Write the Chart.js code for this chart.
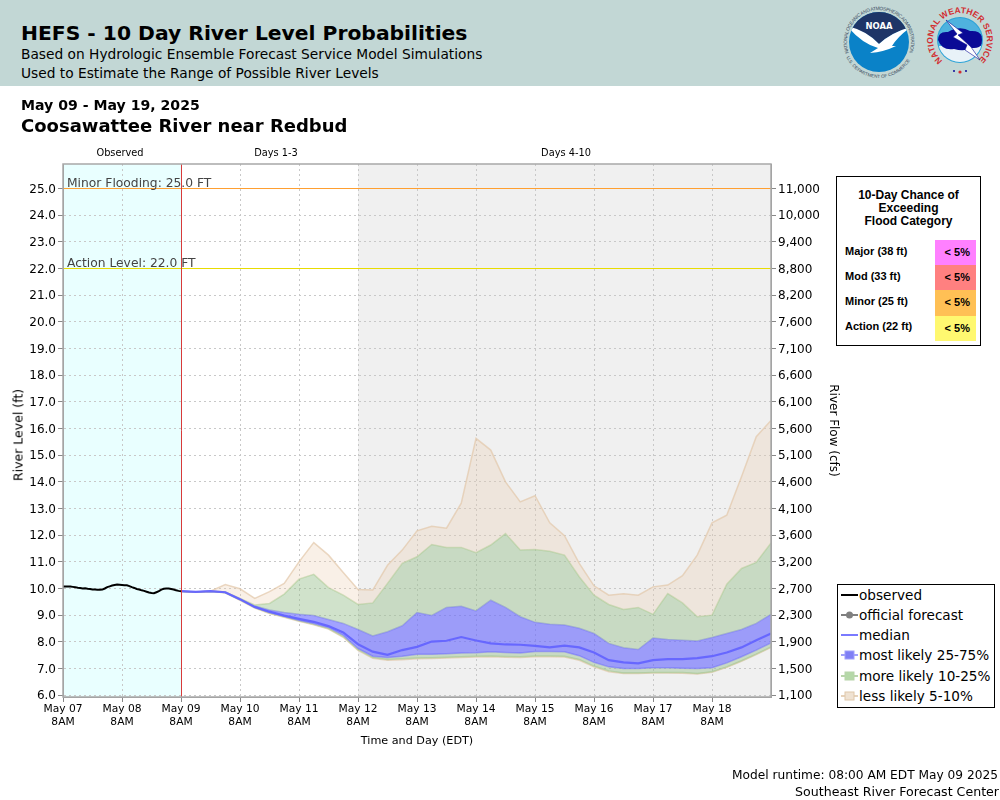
<!DOCTYPE html>
<html>
<head>
<meta charset="utf-8">
<title>HEFS - 10 Day River Level Probabilities</title>
<script src="https://cdn.jsdelivr.net/npm/chart.js@4/dist/chart.umd.min.js"></script>
<style>
  html, body { margin: 0; padding: 0; background: #fff; }
  body { width: 1000px; height: 800px; position: relative; overflow: hidden; font-family: "DejaVu Sans", sans-serif; color: #000; }
  canvas { position: absolute; left: 0; top: 0; }
  .abs { position: absolute; white-space: nowrap; }
  .banner { position: absolute; left: 0; top: 0; width: 1000px; height: 86px; background: #c2d7d5; }
  .zone { font-size: 9.8px; transform: translateX(-50%); top: 147px; }
  .legend { position: absolute; left: 837px; top: 584px; width: 156px; height: 122px; border: 1px solid #000; background: #fff; font-size: 13.6px; }
  .legend div { position: absolute; left: 3px; height: 20px; line-height: 20px; white-space: nowrap; }
  .legend svg { vertical-align: middle; margin-right: 1px; position: relative; top: -1px; }
  .flood { position: absolute; left: 836px; top: 176px; width: 143px; height: 168px; border: 1px solid #000; background: #fff; font-family: "Liberation Sans", sans-serif; font-weight: bold; color: #000; }
  .flood .head { position: absolute; left: 0; right: 0; top: 12px; text-align: center; font-size: 12px; line-height: 13px; }
  .flood .lab { position: absolute; left: 8px; font-size: 11px; line-height: 25px; white-space: nowrap; }
  .flood .cell { position: absolute; left: 98px; width: 41px; height: 25.4px; font-size: 11px; line-height: 25px; text-align: right; box-sizing: border-box; padding-right: 6px; }
</style>
</head>
<body>
<canvas id="hefsChart" width="1000" height="800"></canvas>

<div class="banner"></div>
<div class="abs" style="left:21px;top:21px;font-size:20.3px;font-weight:bold;">HEFS - 10 Day River Level Probabilities</div>
<div class="abs" style="left:21px;top:46px;font-size:13.75px;">Based on Hydrologic Ensemble Forecast Service Model Simulations</div>
<div class="abs" style="left:21px;top:65px;font-size:13.75px;">Used to Estimate the Range of Possible River Levels</div>

<!-- logos -->
<svg class="abs" style="left:836px;top:0;" width="164" height="84" viewBox="0 0 164 84">
  <defs>
    <path id="noaaTop" d="M 12.9 52.9 A 32 32 0 1 1 73.1 52.9"/>
    <path id="noaaBot" d="M 10.4 57.2 A 36 36 0 0 0 75.6 57.2"/>
    <path id="nwsTop" d="M 106.6 60.7 A 27 27 0 1 1 141.4 60.7"/>
    <clipPath id="noaaDisc"><circle cx="43" cy="42" r="30"/></clipPath>
    <clipPath id="nwsDisc"><circle cx="124" cy="40" r="22"/></clipPath>
  </defs>
  <text font-size="4.8" fill="#3a4a60" font-family="Liberation Sans"><textPath href="#noaaTop" textLength="122">NATIONAL OCEANIC AND ATMOSPHERIC ADMINISTRATION</textPath></text>
  <text font-size="4.6" fill="#3a4a60" font-family="Liberation Sans"><textPath href="#noaaBot" textLength="78">U.S. DEPARTMENT OF COMMERCE</textPath></text>
  <circle cx="43" cy="42" r="30" fill="#0a82c8"/>
  <g clip-path="url(#noaaDisc)">
    <path d="M 10 6 L 76 6 L 76 27 Q 56 32 43 44 Q 30 30 10 27 Z" fill="#1e3567"/>
    <path d="M 11 26 Q 30 30 43 44 Q 56 32 75 27 Q 62 36 56 46 L 60 46 Q 48 52 34 53 L 42 48 Q 26 44 11 26 Z" fill="#fff"/>
  </g>
  <text x="43" y="28.5" text-anchor="middle" font-size="9" font-weight="bold" fill="#fff" font-family="DejaVu Sans" textLength="27" lengthAdjust="spacingAndGlyphs">NOAA</text>

  <text font-size="8.5" font-weight="bold" fill="#d22c30" font-family="Liberation Sans"><textPath href="#nwsTop" textLength="130">NATIONAL WEATHER SERVICE</textPath></text>
  <circle cx="124" cy="40" r="23" fill="#2ba3d8"/>
  <g clip-path="url(#nwsDisc)">
    <rect x="100" y="16" width="48" height="48" fill="#4fb2de"/>
    <rect x="100" y="46" width="48" height="18" fill="#e8f2f8"/>
    <path d="M 102 40 Q 102 31 112 32 Q 124 25 134 31 Q 146 30 147 40 Q 146 49 136 48 Q 128 52 118 49 Q 106 51 102 40 Z" fill="#0a0a96"/>
  </g>
  <path d="M 110 20 L 127 33 L 122 35 L 135 47 L 144 60 L 129 50 L 131 45 L 117 37 L 121 34 Z" fill="#fff" stroke="#0a0a96" stroke-width="0.6"/>
  <circle cx="118" cy="71" r="1" fill="#0a0a96"/>
  <circle cx="130" cy="71" r="1" fill="#0a0a96"/>
  <circle cx="124" cy="72" r="1.6" fill="#d22c30"/>
</svg>

<div class="abs" style="left:21px;top:97px;font-size:14.1px;font-weight:bold;">May 09 - May 19, 2025</div>
<div class="abs" style="left:21px;top:115px;font-size:18px;font-weight:bold;">Coosawattee River near Redbud</div>

<div class="abs zone" style="left:120px;">Observed</div>
<div class="abs zone" style="left:276px;">Days 1-3</div>
<div class="abs zone" style="left:566px;">Days 4-10</div>

<div class="abs" style="left:18px;top:434.5px;font-size:12.5px;transform:translate(-50%,-50%) rotate(-90deg);">River Level (ft)</div>

<div class="flood">
  <div class="head">10-Day Chance of<br>Exceeding<br>Flood Category</div>
  <div class="lab" style="top:62px;">Major (38 ft)</div>
  <div class="cell" style="top:62.5px;background:#ff80ff;">&lt; 5%</div>
  <div class="lab" style="top:87px;">Mod (33 ft)</div>
  <div class="cell" style="top:87.9px;background:#ff8080;">&lt; 5%</div>
  <div class="lab" style="top:112px;">Minor (25 ft)</div>
  <div class="cell" style="top:113.2px;background:#ffc055;">&lt; 5%</div>
  <div class="lab" style="top:137px;">Action (22 ft)</div>
  <div class="cell" style="top:138.5px;background:#fff870;">&lt; 5%</div>
</div>

<div class="legend">
  <div style="top:0px;"><svg width="17" height="10"><line x1="0" y1="5" x2="17" y2="5" stroke="#000" stroke-width="2"/></svg>observed</div>
  <div style="top:20px;"><svg width="17" height="10"><line x1="0" y1="5" x2="17" y2="5" stroke="#808080" stroke-width="2"/><circle cx="8.5" cy="5" r="3.5" fill="#808080"/></svg>official forecast</div>
  <div style="top:40px;"><svg width="17" height="10"><line x1="0" y1="5" x2="17" y2="5" stroke="#7a7aff" stroke-width="2"/></svg>median</div>
  <div style="top:60px;"><svg width="17" height="10"><line x1="0" y1="5" x2="17" y2="5" stroke="#a0a0fa" stroke-width="2"/><rect x="4" y="1" width="9" height="8" fill="#7f7ff5" stroke="#a0a0fa"/></svg>most likely 25-75%</div>
  <div style="top:81px;"><svg width="17" height="10"><line x1="0" y1="5" x2="17" y2="5" stroke="#b8d4aa" stroke-width="2"/><rect x="4" y="1" width="9" height="8" fill="#b5d8a8" stroke="#b8d4aa"/></svg>more likely 10-25%</div>
  <div style="top:101px;"><svg width="17" height="10"><line x1="0" y1="5" x2="17" y2="5" stroke="#e6d2ba" stroke-width="2"/><rect x="4" y="1" width="9" height="8" fill="#efe2d2" stroke="#e0c8aa"/></svg>less likely 5-10%</div>
</div>

<div class="abs" style="right:2px;top:768px;font-size:12.2px;">Model runtime: 08:00 AM EDT May 09 2025</div>
<div class="abs" style="right:1px;top:784px;font-size:12.6px;">Southeast River Forecast Center</div>

<script>
// x values are hours since May 07 8AM
const xTickHours = [0, 24, 48, 72, 96, 120, 144, 168, 192, 216, 240, 264];
const xTickLabels = ["May 07", "May 08", "May 09", "May 10", "May 11", "May 12", "May 13", "May 14", "May 15", "May 16", "May 17", "May 18"];
const levelTicks = [6, 7, 8, 9, 10, 11, 12, 13, 14, 15, 16, 17, 18, 19, 20, 21, 22, 23, 24, 25];
const flowTicks = ["1,100", "1,500", "1,900", "2,300", "2,700", "3,200", "3,600", "4,100", "4,600", "5,100", "5,600", "6,100", "6,600", "7,100", "7,600", "8,200", "8,800", "9,400", "10,000", "11,000"];

// hourly observed stage, May 07 8AM to May 09 8AM
const observed = [10.07, 10.07, 10.07, 10.07, 10.06, 10.05, 10.03, 10.02, 10.0, 10.01, 9.99, 9.98, 9.96, 9.96, 9.95, 9.95, 9.96, 10.0, 10.05, 10.08, 10.11, 10.13, 10.15, 10.14, 10.13, 10.12, 10.12, 10.09, 10.05, 10.02, 9.98, 9.96, 9.93, 9.91, 9.88, 9.85, 9.83, 9.82, 9.86, 9.9, 9.96, 9.99, 10.0, 10.0, 9.98, 9.96, 9.93, 9.91, 9.9];

// 6-hourly ensemble percentiles, May 09 8AM to May 19 8AM
const p95 = [9.9, 9.87, 9.9, 10.15, 9.99, 9.63, 9.88, 10.19, 11.0, 11.72, 11.25, 10.6, 9.96, 9.94, 10.87, 11.44, 12.16, 12.33, 12.26, 13.2, 15.63, 15.19, 14.0, 13.25, 13.48, 12.46, 11.98, 10.94, 10.1, 9.75, 9.8, 9.75, 10.06, 10.13, 10.48, 11.25, 12.46, 12.75, 14.19, 15.69, 16.3];
const p90 = [9.9, 9.87, 9.9, 9.87, 9.63, 9.38, 9.44, 9.79, 10.35, 10.53, 10.03, 9.75, 9.4, 9.46, 10.19, 10.94, 11.19, 11.65, 11.54, 11.54, 11.34, 11.63, 12.06, 11.44, 11.46, 11.4, 11.25, 10.44, 9.75, 9.4, 9.21, 9.29, 9.03, 9.81, 9.46, 8.94, 9.0, 10.16, 10.75, 10.98, 11.71];
const p75 = [9.9, 9.87, 9.9, 9.86, 9.61, 9.34, 9.19, 9.1, 9.03, 8.99, 8.84, 8.69, 8.46, 8.22, 8.38, 8.6, 9.1, 8.99, 9.29, 9.33, 9.16, 9.56, 9.29, 8.94, 8.73, 8.66, 8.63, 8.51, 8.31, 7.94, 7.78, 7.71, 8.14, 8.09, 8.06, 8.03, 8.16, 8.31, 8.46, 8.69, 9.03];
const median = [9.9, 9.87, 9.9, 9.86, 9.6, 9.31, 9.13, 8.98, 8.86, 8.75, 8.59, 8.35, 7.91, 7.63, 7.51, 7.69, 7.81, 8.01, 8.04, 8.18, 8.05, 7.94, 7.9, 7.89, 7.85, 7.79, 7.86, 7.79, 7.6, 7.31, 7.23, 7.19, 7.31, 7.35, 7.35, 7.39, 7.46, 7.6, 7.79, 8.06, 8.31];
const p25 = [9.9, 9.87, 9.9, 9.85, 9.58, 9.29, 9.1, 8.96, 8.81, 8.69, 8.54, 8.25, 7.75, 7.46, 7.41, 7.46, 7.53, 7.53, 7.55, 7.58, 7.59, 7.63, 7.6, 7.58, 7.64, 7.64, 7.63, 7.48, 7.23, 7.06, 7.0, 7.0, 7.03, 7.03, 7.01, 7.0, 7.03, 7.21, 7.44, 7.69, 7.96];
const p10 = [9.89, 9.86, 9.89, 9.84, 9.57, 9.28, 9.08, 8.94, 8.79, 8.66, 8.5, 8.2, 7.71, 7.41, 7.34, 7.36, 7.39, 7.4, 7.42, 7.44, 7.46, 7.47, 7.45, 7.44, 7.47, 7.47, 7.46, 7.34, 7.09, 6.91, 6.83, 6.83, 6.85, 6.85, 6.85, 6.81, 6.88, 7.06, 7.29, 7.54, 7.81];
const p5 = [9.89, 9.86, 9.89, 9.84, 9.56, 9.27, 9.06, 8.92, 8.77, 8.64, 8.48, 8.17, 7.68, 7.38, 7.31, 7.33, 7.36, 7.37, 7.39, 7.41, 7.43, 7.44, 7.42, 7.41, 7.44, 7.44, 7.43, 7.31, 7.06, 6.88, 6.81, 6.81, 6.83, 6.83, 6.82, 6.79, 6.86, 7.04, 7.27, 7.52, 7.79];

const minorFlood = 25;
const actionFlood = 22;

const forecastStart = 48;
const endHour = 288;
const grayFrom = 120;  // Days 4-10 start
const levelMin = 5.93;
const levelMax = 25.92;

const obsPoints = observed.map((v, i) => ({ x: i, y: v }));
const toPoints = (arr) => arr.map((v, i) => ({ x: forecastStart + i * 6, y: v }));

function band(label, arr, color, fillColor) {
    return {
        label: label,
        data: toPoints(arr),
        borderColor: color,
        borderWidth: 1.5,
        backgroundColor: fillColor || "transparent",
        fill: fillColor ? "+1" : false,
        pointRadius: 0,
        tension: 0
    };
}

const tanFill = "rgba(235,205,175,0.3)";
const greenFill = "rgba(150,190,140,0.45)";
const blueFill = "rgba(100,100,255,0.6)";
const tanEdge = "rgba(226,200,170,0.7)";
const greenEdge = "rgba(170,205,150,0.6)";
const blueEdge = "rgba(125,125,245,0.6)";

// paints the shaded periods under the grid, the frame and flood labels on top
const backdrop = {
    id: "backdrop",
    beforeDraw(chart) {
        const { ctx, chartArea, scales } = chart;
        const x = scales.x;
        ctx.save();
        ctx.fillStyle = "#e9ffff";
        ctx.fillRect(x.getPixelForValue(0), chartArea.top, x.getPixelForValue(forecastStart) - x.getPixelForValue(0), chartArea.height);
        ctx.fillStyle = "#f0f0f0";
        ctx.fillRect(x.getPixelForValue(grayFrom), chartArea.top, x.getPixelForValue(endHour) - x.getPixelForValue(grayFrom), chartArea.height);
        ctx.restore();
    },
    afterDatasetsDraw(chart) {
        const { ctx, chartArea, scales } = chart;
        const x = scales.x, y = scales.y;
        ctx.save();
        ctx.strokeStyle = "#d83a3a";
        ctx.lineWidth = 1;
        ctx.beginPath();
        ctx.moveTo(Math.round(x.getPixelForValue(forecastStart)) + 0.5, chartArea.top);
        ctx.lineTo(Math.round(x.getPixelForValue(forecastStart)) + 0.5, chartArea.bottom);
        ctx.stroke();

        ctx.fillStyle = "#444";
        ctx.font = "12.3px 'DejaVu Sans'";
        ctx.fillText("Minor Flooding: 25.0 FT", chartArea.left + 4, y.getPixelForValue(minorFlood) - 2);
        ctx.fillText("Action Level: 22.0 FT", chartArea.left + 4, y.getPixelForValue(actionFlood) - 2);

        ctx.strokeStyle = "#a8a8a8";
        ctx.lineWidth = 1.5;
        ctx.strokeRect(chartArea.left, chartArea.top, chartArea.width, chartArea.height);
        ctx.restore();
    }
};

const gridColor = "#c8c8c8";
const dashedBorder = { color: "#999", width: 1, dash: [2, 3] };
const tickFont = { family: "DejaVu Sans", size: 12 };

new Chart(document.getElementById("hefsChart"), {
    type: "line",
    data: {
        datasets: [
            { label: "observed", data: obsPoints, borderColor: "#000", borderWidth: 2, pointRadius: 0, fill: false },
            { label: "median", data: toPoints(median), borderColor: "rgba(100,100,255,0.95)", borderWidth: 2.2, pointRadius: 0, fill: false },
            { label: "minor", data: [{ x: 0, y: minorFlood }, { x: endHour, y: minorFlood }], borderColor: "#ff9f30", borderWidth: 1, pointRadius: 0, fill: false },
            { label: "action", data: [{ x: 0, y: actionFlood }, { x: endHour, y: actionFlood }], borderColor: "#e8dc00", borderWidth: 1, pointRadius: 0, fill: false },
            band("p95", p95, tanEdge, tanFill),
            band("p90", p90, greenEdge, greenFill),
            band("p75", p75, blueEdge, blueFill),
            band("p25", p25, blueEdge, greenFill),
            band("p10", p10, greenEdge, tanFill),
            band("p5", p5, tanEdge)
        ]
    },
    plugins: [backdrop],
    options: {
        responsive: false,
        animation: false,
        layout: { padding: { left: 0, right: 160, top: 164, bottom: 52 } },
        plugins: { legend: { display: false }, title: { display: false }, tooltip: { enabled: false } },
        scales: {
            x: {
                type: "linear",
                min: 0,
                max: endHour,
                grid: { color: gridColor, tickColor: "#888", tickLength: 5 },
                border: dashedBorder,
                afterBuildTicks(scale) { scale.ticks = xTickHours.map(v => ({ value: v })); },
                afterFit(scale) { scale.height = 51; },
                ticks: {
                    color: "#000",
                    font: { family: "DejaVu Sans", size: 10.7 },
                    maxRotation: 0,
                    autoSkip: false,
                    padding: 1,
                    callback(value) {
                        return [xTickLabels[xTickHours.indexOf(value)], "8AM"];
                    }
                },
                title: { display: true, text: "Time and Day (EDT)", color: "#000", font: { family: "DejaVu Sans", size: 11.2 }, padding: { top: 0, bottom: 0 } }
            },
            y: {
                type: "linear",
                position: "left",
                min: levelMin,
                max: levelMax,
                grid: {
                    // flood lines sit on these two, keep them solid
                    color: (c) => (c.tick && (c.tick.value === minorFlood || c.tick.value === actionFlood)) ? "transparent" : gridColor,
                    tickColor: "#888",
                    tickLength: 5
                },
                border: dashedBorder,
                afterBuildTicks(scale) { scale.ticks = levelTicks.map(v => ({ value: v })); },
                afterFit(scale) { scale.width = 63; },
                ticks: {
                    color: "#000",
                    font: tickFont,
                    padding: 2,
                    labelOffset: 1,
                    autoSkip: false,
                    callback(value) { return value.toFixed(1); }
                }
            },
            y2: {
                type: "linear",
                position: "right",
                min: levelMin,
                max: levelMax,
                grid: { drawOnChartArea: false, tickColor: "#888", tickLength: 5 },
                border: { color: "#999", width: 1 },
                afterBuildTicks(scale) { scale.ticks = levelTicks.map(v => ({ value: v })); },
                afterFit(scale) { scale.width = 69; },
                ticks: {
                    color: "#000",
                    font: tickFont,
                    padding: 2,
                    labelOffset: 1,
                    autoSkip: false,
                    callback(value) { return flowTicks[levelTicks.indexOf(value)]; }
                },
                title: { display: true, text: "River Flow (cfs)", color: "#000", font: { family: "DejaVu Sans", size: 12 }, padding: { top: 0, bottom: 3 } }
            }
        }
    }
});
</script>
</body>
</html>
